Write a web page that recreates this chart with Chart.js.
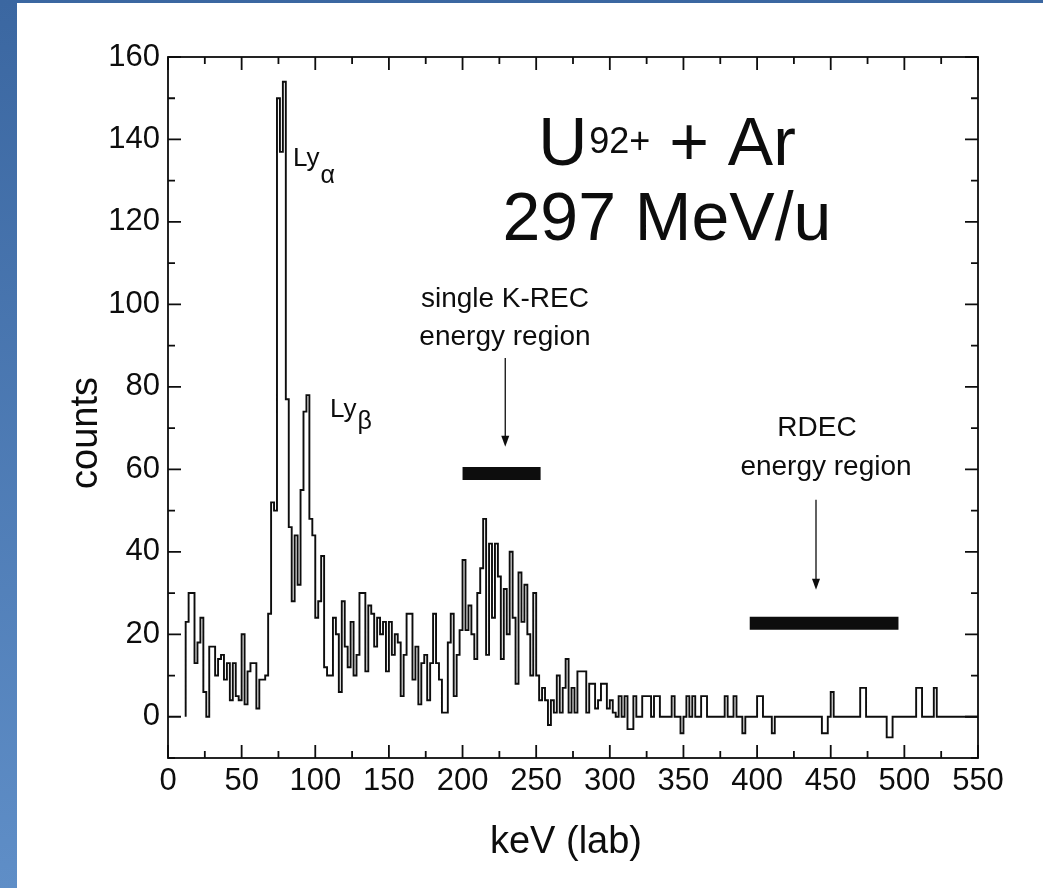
<!DOCTYPE html>
<html lang="en">
<head>
  <meta charset="UTF-8">
  <title>U92+ + Ar, 297 MeV/u</title>
  <style>
    html, body {
      margin: 0;
      height: 100%;
    }
    body {
      background: linear-gradient(#3b67a1, #5f8ec7);
      overflow: hidden;
      font-family: 'Liberation Sans', Arial, sans-serif;
    }
    .panel {
      position: absolute;
      left: 17px;
      top: 3px;
      right: 0;
      bottom: 0;
      background: #ffffff;
    }
    #spectrum {
      position: absolute;
      left: 0;
      top: 0;
    }
  </style>
</head>
<body>
  <div class="panel"></div>
  <canvas id="spectrum" width="1043" height="888"></canvas>

  <script src="https://cdn.jsdelivr.net/npm/chart.js@4"></script>
  <script>
    // spectrum: 2 keV bins starting at 12 keV
    const binStart = 12;
    const binWidth = 2;
    const counts = [
      23, 30, 30, 13, 18, 24, 6, 0, 17, 17,      // 12-30
      10, 14, 15, 9, 13, 4, 13, 5, 4, 20,        // 32-50
      3, 11, 13, 13, 2, 9, 9, 10, 25, 52,        // 52-70
      50, 150, 137, 154, 77, 46, 28, 44, 32, 55, // 72-90
      74, 78, 48, 44, 24, 28, 39, 12, 10, 10,    // 92-110
      24, 20, 6, 28, 17, 12, 23, 10, 15, 30,     // 112-130
      30, 11, 27, 25, 17, 24, 20, 23, 11, 23,    // 132-150
      15, 20, 18, 5, 15, 25, 25, 9, 17, 3,       // 152-170
      13, 15, 4, 13, 25, 13, 9, 1, 1, 18,        // 172-190
      25, 5, 15, 21, 38, 21, 27, 20, 14, 30,     // 192-210
      36, 48, 15, 42, 24, 42, 34, 14, 31, 20,    // 212-230
      40, 24, 8, 35, 23, 32, 20, 10, 30, 10,     // 232-250
      4, 7, 4, -2, 4, 1, 10, 1, 7, 14,           // 252-270
      1, 7, 1, 11, 11, 11, 1, 8, 8, 2,           // 272-290
      4, 8, 8, 2, 4, 1, 0, 5, 0, 5,              // 292-310
      -3, -3, 5, 0, 0, 5, 5, 5, 0, 5,            // 312-330
      5, 0, 0, 0, 0, 5, 0, 0, -4, 0,             // 332-350
      5, 0, 5, 0, 0, 5, 5, 0, 0, 0,              // 352-370
      0, 0, 0, 5, 0, 0, 5, 0, 0, -4,             // 372-390
      0, 0, 0, 0, 5, 5, 0, 0, 0, -4,             // 392-410
      0, 0, 0, 0, 0, 0, 0, 0, 0, 0,              // 412-430
      0, 0, 0, 0, 0, 0, -4, -4, 0, 6,            // 432-450
      0, 0, 0, 0, 0, 0, 0, 0, 0, 7,              // 452-470
      7, 0, 0, 0, 0, 0, 0, 0, -5, -5,            // 472-490
      0, 0, 0, 0, 0, 0, 0, 0, 7, 7,              // 492-510
      0, 0, 0, 0, 7, 0, 0, 0, 0, 0,              // 512-530
      0, 0, 0, 0, 0, 0, 0, 0, 0                  // 532-548
    ];

    const energyTicks = [0, 50, 100, 150, 200, 250, 300, 350, 400, 450, 500, 550];
    const countTicks = [0, 20, 40, 60, 80, 100, 120, 140, 160];

    // energy windows marked with a bar (keV range, height in counts)
    const kRecBand = [200, 253];
    const kRecLevel = 59;
    const rdecBand = [395, 496];
    const rdecLevel = 22.7;

    const arrows = [
      { x: 229, from: 87, to: 65.5 },
      { x: 440, from: 52.6, to: 30.8 }
    ];

    const FONT = "'Liberation Sans', Arial, sans-serif";
    const INK = '#0d0d0d';

    // histogram outline: one point per left bin edge, closed at the last edge
    const histPoints = [{ x: binStart, y: 0 }];
    counts.forEach((c, i) => histPoints.push({ x: binStart + i * binWidth, y: c }));
    histPoints.push({ x: binStart + counts.length * binWidth, y: counts[counts.length - 1] });

    function band(range, level) {
      return {
        data: range.map(v => ({ x: v, y: level })),
        borderColor: INK,
        borderWidth: 13,
        borderCapStyle: 'butt',
        pointRadius: 0
      };
    }

    // draws base text followed by a smaller lowered part
    function scriptText(ctx, x, y, base, baseSize, small, smallSize, shift) {
      ctx.textAlign = 'left';
      ctx.font = baseSize + 'px ' + FONT;
      const w1 = ctx.measureText(base).width;
      ctx.fillText(base, x, y);
      ctx.font = smallSize + 'px ' + FONT;
      ctx.fillText(small, x + w1 + 1, y + shift);
    }

    const frameAndNotes = {
      id: 'frameAndNotes',
      afterDatasetsDraw(chart) {
        const { ctx, chartArea: a, scales: { x, y } } = chart;
        ctx.save();
        ctx.strokeStyle = INK;
        ctx.fillStyle = INK;
        ctx.lineWidth = 1.8;

        // box with inward ticks on all four sides
        ctx.strokeRect(a.left, a.top, a.right - a.left, a.bottom - a.top);
        ctx.beginPath();
        for (let v = 0; v <= 550; v += 25) {
          const px = x.getPixelForValue(v);
          const len = v % 50 === 0 ? 13 : 7;
          ctx.moveTo(px, a.bottom);
          ctx.lineTo(px, a.bottom - len);
          ctx.moveTo(px, a.top);
          ctx.lineTo(px, a.top + len);
        }
        for (let v = -10; v <= 160; v += 10) {
          const py = y.getPixelForValue(v);
          const len = v % 20 === 0 ? 13 : 7;
          ctx.moveTo(a.left, py);
          ctx.lineTo(a.left + len, py);
          ctx.moveTo(a.right, py);
          ctx.lineTo(a.right - len, py);
        }
        ctx.stroke();

        // arrows pointing at the bars
        arrows.forEach(ar => {
          const px = x.getPixelForValue(ar.x);
          const top = y.getPixelForValue(ar.from);
          const tip = y.getPixelForValue(ar.to);
          ctx.lineWidth = 1.3;
          ctx.beginPath();
          ctx.moveTo(px, top);
          ctx.lineTo(px, tip - 6);
          ctx.stroke();
          ctx.beginPath();
          ctx.moveTo(px, tip);
          ctx.lineTo(px - 4, tip - 11);
          ctx.lineTo(px + 4, tip - 11);
          ctx.closePath();
          ctx.fill();
        });

        ctx.textBaseline = 'alphabetic';

        // line labels
        scriptText(ctx, x.getPixelForValue(84.9), y.getPixelForValue(133.6), 'Ly', 26, 'α', 25, 17);
        scriptText(ctx, x.getPixelForValue(110), y.getPixelForValue(72.7), 'Ly', 26, 'β', 25, 12);

        // region captions
        ctx.font = '28px ' + FONT;
        ctx.textAlign = 'center';
        ctx.fillText('single K-REC', x.getPixelForValue(228.8), y.getPixelForValue(99.4));
        ctx.fillText('energy region', x.getPixelForValue(228.8), y.getPixelForValue(90.2));
        ctx.fillText('RDEC', x.getPixelForValue(440.7), y.getPixelForValue(68.1));
        ctx.fillText('energy region', x.getPixelForValue(446.8), y.getPixelForValue(58.7));

        // collision system
        const cx = x.getPixelForValue(338.8);
        ctx.font = '68px ' + FONT;
        const uW = ctx.measureText('U').width;
        const restW = ctx.measureText(' + Ar').width;
        ctx.font = '36px ' + FONT;
        const supW = ctx.measureText('92+').width;
        const start = cx - (uW + supW + restW + 2) / 2;
        const base1 = y.getPixelForValue(133.8);
        ctx.textAlign = 'left';
        ctx.font = '68px ' + FONT;
        ctx.fillText('U', start, base1);
        ctx.font = '36px ' + FONT;
        ctx.fillText('92+', start + uW + 2, base1 - 12);
        ctx.font = '68px ' + FONT;
        ctx.fillText(' + Ar', start + uW + supW + 2, base1);
        ctx.textAlign = 'center';
        ctx.fillText('297 MeV/u', cx, y.getPixelForValue(115.7));

        // axis titles
        ctx.font = '38px ' + FONT;
        ctx.fillText('keV (lab)', (a.left + a.right) / 2 - 7, 853);
        ctx.translate(97, 433);
        ctx.rotate(-Math.PI / 2);
        ctx.fillText('counts', 0, 0);
        ctx.restore();
      }
    };

    new Chart(document.getElementById('spectrum'), {
      type: 'line',
      data: {
        datasets: [
          {
            data: histPoints,
            stepped: 'before',
            borderColor: INK,
            borderWidth: 1.9,
            pointRadius: 0
          },
          band(kRecBand, kRecLevel),
          band(rdecBand, rdecLevel)
        ]
      },
      options: {
        responsive: false,
        animation: false,
        layout: { padding: { top: 57, right: 65, left: 0, bottom: 0 } },
        plugins: {
          legend: { display: false },
          tooltip: { enabled: false }
        },
        scales: {
          x: {
            type: 'linear',
            min: 0,
            max: 550,
            grid: { display: false, drawTicks: false },
            border: { display: false },
            afterBuildTicks: s => { s.ticks = energyTicks.map(v => ({ value: v })); },
            afterFit: s => { s.height = 130; s.paddingLeft = 0; s.paddingRight = 0; },
            ticks: {
              autoSkip: false,
              maxRotation: 0,
              padding: 5,
              color: INK,
              font: { family: FONT, size: 31 }
            }
          },
          y: {
            type: 'linear',
            min: -10,
            max: 160,
            grid: { display: false, drawTicks: false },
            border: { display: false },
            afterBuildTicks: s => { s.ticks = countTicks.map(v => ({ value: v })); },
            afterFit: s => { s.width = 168; s.paddingTop = 0; s.paddingBottom = 0; },
            ticks: {
              padding: 8,
              color: INK,
              font: { family: FONT, size: 31 }
            }
          }
        }
      },
      plugins: [frameAndNotes]
    });
  </script>
</body>
</html>
